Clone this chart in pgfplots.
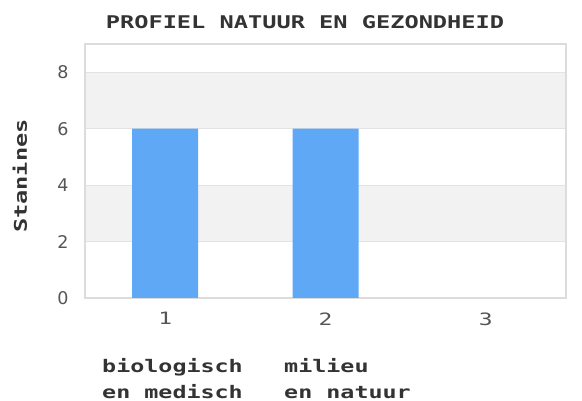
\documentclass[border=0pt]{standalone}
\usepackage{fontspec}
\setmainfont{DejaVu Sans}
\newfontfamily\pix[FakeStretch=1.35]{DejaVu Sans Mono}
\usepackage{pgfplots}
\pgfplotsset{compat=1.18}
\definecolor{barblue}{HTML}{5FA8F5}
\definecolor{band}{HTML}{F2F2F2}
\definecolor{gridc}{HTML}{E3E3E3}
\definecolor{borderc}{HTML}{DCDCDC}
\definecolor{tickc}{HTML}{555555}
\definecolor{titlec}{HTML}{333333}
\begin{document}
\begin{tikzpicture}
\begin{axis}[
  at={(85bp,103bp)}, anchor=south west,
  set layers,
  scale only axis,
  width=481bp, height=254bp,
  xmin=0.5, xmax=3.5, ymin=0, ymax=9,
  xtick={1,2,3}, ytick={0,2,4,6,8},
  major tick length=0pt,
  axis line style={draw=borderc, line width=1.5bp},
  ymajorgrids, grid style={draw=gridc, line width=0.8bp},
  tick label style={font=\fontsize{17.5bp}{18bp}\selectfont, text=tickc},
  xticklabel style={font=\pix\fontsize{17bp}{18bp}\selectfont, yshift=-11bp},
  yticklabel style={xshift=-13bp},
  /pgf/number format/assume math mode=true,
  ybar, bar width=66bp,
]
\begin{pgfonlayer}{axis background}
\fill[band] (axis cs:0.5,2) rectangle (axis cs:3.5,4);
\fill[band] (axis cs:0.5,6) rectangle (axis cs:3.5,8);
\end{pgfonlayer}
\addplot[fill=barblue, draw=none, bar shift=0pt] coordinates {(1,6) (2,6)};
\end{axis}
\node[font=\pix\bfseries\fontsize{17.5bp}{18bp}\selectfont, text=titlec] at (305bp,379bp) {PROFIEL NATUUR EN GEZONDHEID};
\node[font=\pix\bfseries\fontsize{17.5bp}{18bp}\selectfont, text=titlec, rotate=90] at (20bp,225bp) {Stanines};
\node[font=\pix\bfseries\fontsize{17.3bp}{26bp}\selectfont, text=titlec, anchor=base west, align=left, inner sep=0pt] at (102bp,3bp) {biologisch\\en medisch};
\node[font=\pix\bfseries\fontsize{17.3bp}{26bp}\selectfont, text=titlec, anchor=base west, align=left, inner sep=0pt] at (284bp,3bp) {milieu\\en natuur};
\pgfresetboundingbox
\useasboundingbox (0bp,0bp) rectangle (582bp,401bp);
\end{tikzpicture}
\end{document}
